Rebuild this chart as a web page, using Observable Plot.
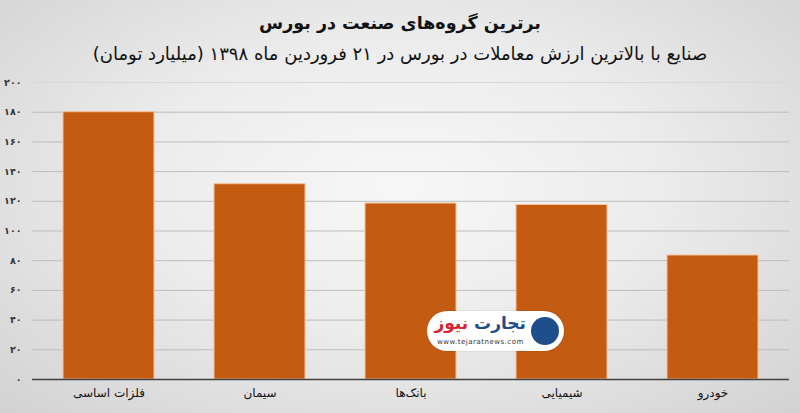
<!DOCTYPE html>
<html lang="fa">
<head>
<meta charset="utf-8">
<script src="https://cdn.jsdelivr.net/npm/d3@7"></script>
<script src="https://cdn.jsdelivr.net/npm/@observablehq/plot@0.6"></script>
<style>
  html, body { margin: 0; padding: 0; }
  body {
    width: 800px; height: 413px; overflow: hidden; position: relative;
    background: radial-gradient(ellipse at 50% 45%, #f7f7f7 0%, #ececec 45%, #d2d2d2 100%);
    font-family: "DejaVu Sans", sans-serif;
  }
  #head { height: 70px; position: relative; direction: rtl; }
  #title { position: absolute; left: 0; right: 0; top: 13px; text-align: center; font-size: 17.5px; font-weight: bold; color: #111; }
  #subtitle { position: absolute; left: 0; right: 0; top: 43px; text-align: center; font-size: 18px; color: #111; }
  #chart svg { display: block; background: transparent; }
  #logo {
    position: absolute; left: 427px; top: 311px; width: 137px; height: 40px;
    background: #fff; border-radius: 20px; direction: rtl;
    box-shadow: 0 0 2px rgba(0,0,0,0.2);
  }
  #logo .mark { position: absolute; right: 5px; top: 6px; width: 28px; height: 28px; border-radius: 50%; background: #1f4e8c; }
  #logo .name { position: absolute; right: 38px; top: 2px; font-size: 17px; font-weight: bold; color: #1f4e8c; white-space: nowrap; }
  #logo .name span { color: #d9232d; }
  #logo .url { position: absolute; left: 10px; top: 27px; font-size: 7px; color: #333; direction: ltr; letter-spacing: 0.5px; }
</style>
</head>
<body>
<div id="head">
  <div id="title">برترین گروه‌های صنعت در بورس</div>
  <div id="subtitle">صنایع با بالاترین ارزش معاملات در بورس در ۲۱ فروردین ماه ۱۳۹۸ (میلیارد تومان)</div>
</div>
<div id="chart"></div>
<div id="logo"><div class="mark"></div><div class="name">تجارت <span>نیوز</span></div><div class="url">www.tejaratnews.com</div></div>
<script>
const categories = ["فلزات اساسی", "سیمان", "بانک‌ها", "شیمیایی", "خودرو"];
const values = [180, 131.5, 118.5, 117.5, 83.5];
const yTicks = [0, 20, 40, 60, 80, 100, 120, 140, 160, 180, 200];
const persianDigits = ["۰","۱","۲","۳","۴","۵","۶","۷","۸","۹"];

const toFa = n => String(n).replace(/\d/g, d => persianDigits[+d]);
const data = categories.map((c, i) => ({category: c, value: values[i]}));

const chart = Plot.plot({
  width: 800,
  height: 343,
  marginTop: 12,
  marginBottom: 34,
  marginLeft: 32,
  marginRight: 11,
  style: {fontFamily: "DejaVu Sans, sans-serif", background: "transparent", color: "#222"},
  x: {domain: categories, paddingInner: 0.4, paddingOuter: 0.2, label: null},
  y: {domain: [0, 200], label: null},
  marks: [
    Plot.gridY(yTicks.filter(t => t > 0 && t < 200), {stroke: "#bdbdbd", strokeOpacity: 1, strokeWidth: 1}),
    Plot.gridY([200], {stroke: "#d8d8d8", strokeOpacity: 1, strokeWidth: 1}),
    Plot.barY(data, {x: "category", y: "value", fill: "#c55a11", stroke: "#f4c29a", strokeWidth: 1}),
    Plot.ruleY([0], {stroke: "#404040", strokeWidth: 1.5}),
    Plot.axisY(yTicks, {tickSize: 0, tickPadding: 11, tickFormat: toFa, fontSize: 9.5, fontWeight: "bold", fill: "#333"}),
    Plot.axisX({tickSize: 0, tickPadding: 9, fontSize: 12, fill: "#111"})
  ]
});
document.getElementById("chart").appendChild(chart);
</script>
</body>
</html>
